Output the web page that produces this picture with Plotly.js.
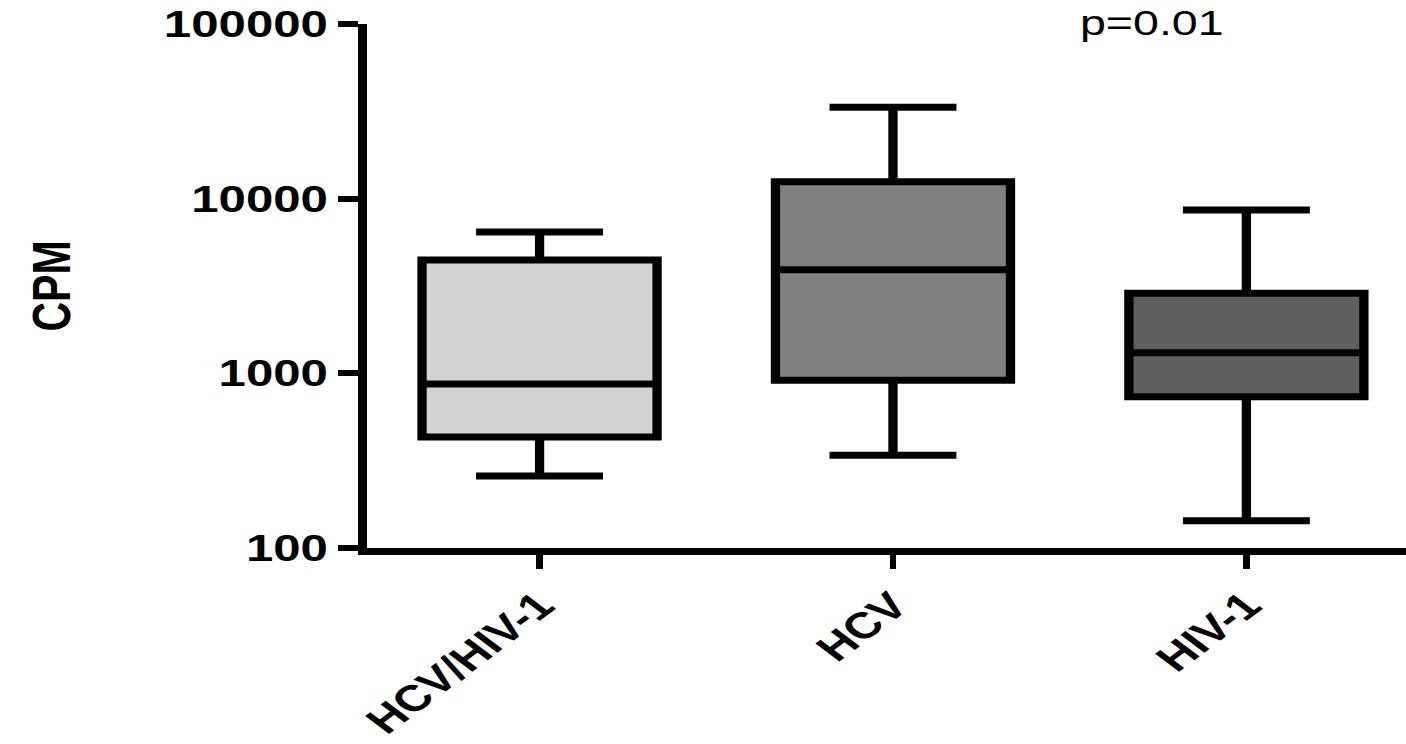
<!DOCTYPE html>
<html>
<head>
<meta charset="utf-8">
<script src="https://cdn.plot.ly/plotly-3.0.1.min.js"></script>
<style>
  html, body { margin: 0; padding: 0; background: #fff; overflow: hidden; width: 1406px; height: 744px; }
  /* the figure is laid out narrow and widened horizontally, like the exported original */
  #chart { width: 1080px; height: 744px; transform: scaleX(1.33); transform-origin: 0 0; }
</style>
</head>
<body>
<div id="chart"></div>
<script>
// CPM per patient group (box: quartiles and median, whiskers: min to max)
const groups = ['HCV/HIV-1', 'HCV', 'HIV-1'];
const lowerWhisker = [258, 340, 143];
const q1Values = [432, 912, 735];
const medians = [869, 3920, 1313];
const q3Values = [4456, 12510, 2873];
const upperWhisker = [6446, 33350, 8613];
const boxFills = ['#d3d3d3', '#808080', '#5f5f5f'];
const yTickValues = [100, 1000, 10000, 100000];
const yTickLabels = ['100', '1000', '10000', '100000'];
const pValueLabel = 'p=0.01';

const traces = groups.map((g, i) => ({
  type: 'box',
  x: [g],
  q1: [q1Values[i]],
  median: [medians[i]],
  q3: [q3Values[i]],
  lowerfence: [lowerWhisker[i]],
  upperfence: [upperWhisker[i]],
  fillcolor: boxFills[i],
  line: { color: '#000000', width: 7 },
  whiskerwidth: 0.54,
  width: 0.665,
  boxpoints: false,
  name: g
}));

const boldFont = { family: 'Liberation Sans, Arial, sans-serif', color: '#000000', weight: 700 };

const layout = {
  width: 1080,
  height: 744,
  margin: { l: 276, r: 10, t: 24, b: 196 },
  paper_bgcolor: '#ffffff',
  plot_bgcolor: '#ffffff',
  showlegend: false,
  xaxis: {
    type: 'category',
    range: [-0.488, 2.5],
    showline: true, linewidth: 7, linecolor: '#000000',
    ticks: 'outside', ticklen: 14, tickwidth: 5, tickcolor: '#000000',
    tickangle: -45,
    tickfont: Object.assign({ size: 37 }, boldFont),
    showgrid: false, zeroline: false
  },
  yaxis: {
    type: 'log',
    range: [2, 5],
    tickvals: yTickValues,
    ticktext: yTickLabels,
    showline: true, linewidth: 7, linecolor: '#000000',
    ticks: 'outside', ticklen: 15, tickwidth: 6, tickcolor: '#000000',
    tickfont: Object.assign({ size: 37 }, boldFont),
    showgrid: false, zeroline: false,
    title: { text: 'CPM', font: Object.assign({ size: 41 }, boldFont), standoff: 60 }
  },
  annotations: [{
    text: pValueLabel,
    xref: 'x', yref: 'paper',
    x: 1.733, y: 1.003,
    xanchor: 'center', yanchor: 'middle',
    showarrow: false,
    font: { family: 'Liberation Sans, Arial, sans-serif', size: 35, color: '#000000' }
  }]
};

Plotly.newPlot('chart', traces, layout, { staticPlot: true, displayModeBar: false });
</script>
</body>
</html>
